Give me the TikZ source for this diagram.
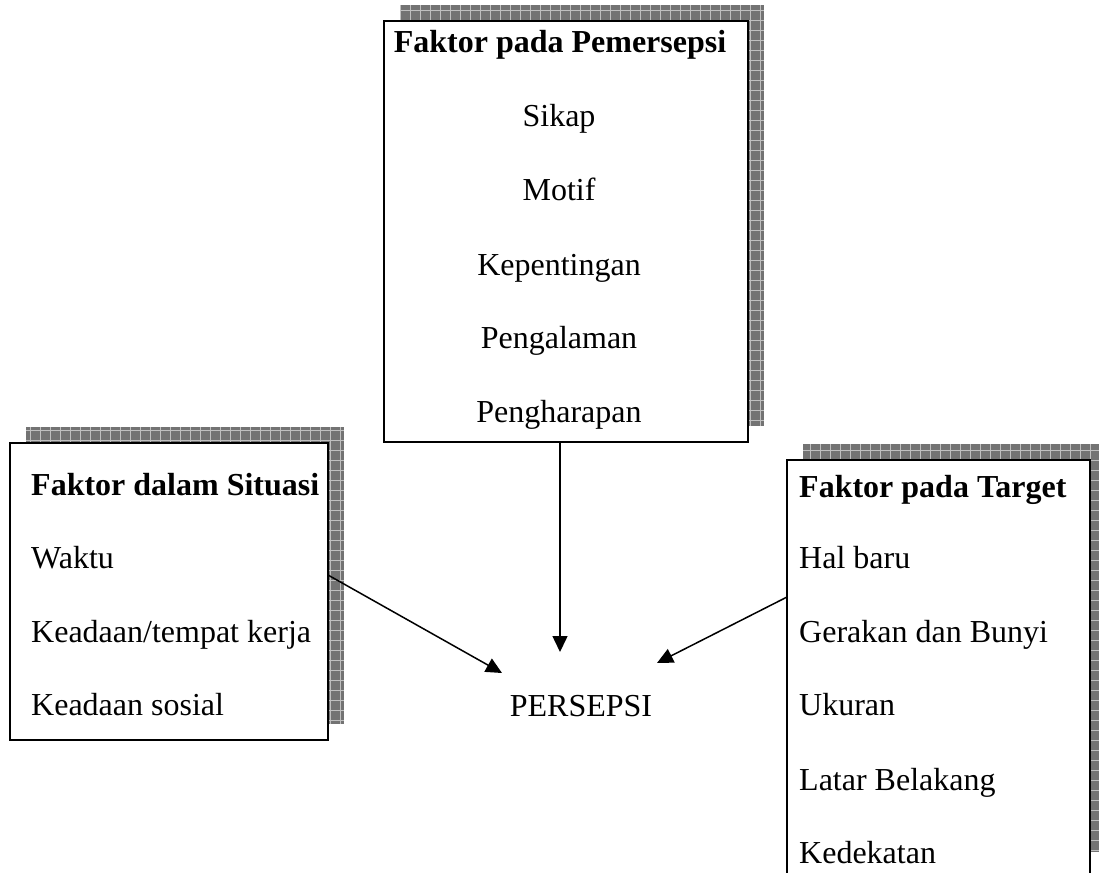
\documentclass[tikz,border=0pt]{standalone}
\usepackage{fontspec}
\setmainfont{Liberation Serif}
\usetikzlibrary{arrows.meta,calc}
\tikzset{
  shadowfill/.style={fill=black!55},
  shadowgrid/.style={draw=black!25, line width=0.6pt},
  factbox/.style={draw=black, line width=2pt, fill=white, rectangle, inner sep=0pt, outer sep=0pt, anchor=north west},
  txt/.style={inner sep=0pt, font=\fontsize{32}{38}\selectfont},
  ttl/.style={txt, font=\fontsize{32}{38}\selectfont\bfseries},
  arr/.style={line width=1.5pt, -{Triangle[length=16pt,width=15pt]}}
}
\begin{document}
\begin{tikzpicture}[x=1pt,y=-1pt]
\useasboundingbox (0,0) rectangle (1099,872);
% shadows
\begin{scope}
  \fill[shadowfill] (400,5) rectangle (764,426);
  \clip (400,5) rectangle (764,426);
  \draw[shadowgrid] (400,5) grid[step=10pt] (764,426);
\end{scope}
\begin{scope}
  \fill[shadowfill] (26,427) rectangle (344,724);
  \clip (26,427) rectangle (344,724);
  \draw[shadowgrid] (26,427) grid[step=10pt] (344,724);
\end{scope}
\begin{scope}
  \fill[shadowfill] (803,444) rectangle (1106,852);
  \clip (803,444) rectangle (1106,852);
  \draw[shadowgrid] (803,444) grid[step=10pt] (1106,852);
\end{scope}
% boxes
\node[factbox, minimum width=364pt, minimum height=421pt] (pem) at (384,21) {};
\node[factbox, minimum width=318pt, minimum height=297pt] (sit) at (10,443) {};
\node[factbox, minimum width=303pt, minimum height=428pt] (tgt) at (787,460) {};
% top box text
\node[ttl, anchor=base] (pt) at (560,53) {Faktor pada Pemersepsi};
\node[txt, anchor=base] (p1) at (559,127) {Sikap};
\node[txt, anchor=base] (p2) at (559,200) {Motif};
\node[txt, anchor=base] (p3) at (559,275) {Kepentingan};
\node[txt, anchor=base] (p4) at (559,348) {Pengalaman};
\node[txt, anchor=base] (p5) at (559,422) {Pengharapan};
% left box text
\node[ttl, anchor=base west] (st) at (31,495) {Faktor dalam Situasi};
\node[txt, anchor=base west] (s1) at (31,568) {Waktu};
\node[txt, anchor=base west] (s2) at (31,642) {Keadaan/tempat kerja};
\node[txt, anchor=base west] (s3) at (31,715) {Keadaan sosial};
% right box text
\node[ttl, anchor=base west] (tt) at (799,497) {Faktor pada Target};
\node[txt, anchor=base west] (t1) at (799,568) {Hal baru};
\node[txt, anchor=base west] (t2) at (799,642) {Gerakan dan Bunyi};
\node[txt, anchor=base west] (t3) at (799,715) {Ukuran};
\node[txt, anchor=base west] (t4) at (799,790) {Latar Belakang};
\node[txt, anchor=base west] (t5) at (799,863) {Kedekatan};
% center
\node[txt, anchor=base] (per) at (581,716) {PERSEPSI};
\coordinate (tipL) at (502,673);
\coordinate (tipT) at ([xshift=-6pt,yshift=-210pt]pem.south);
\coordinate (tipR) at (657,663);
% arrows
\draw[arr] ([yshift=16.5pt]sit.east) -- (tipL);
\draw[arr] ([xshift=-6pt]pem.south) -- (tipT);
\draw[arr] ([yshift=77pt]tgt.west) -- (tipR);
\end{tikzpicture}
\end{document}
